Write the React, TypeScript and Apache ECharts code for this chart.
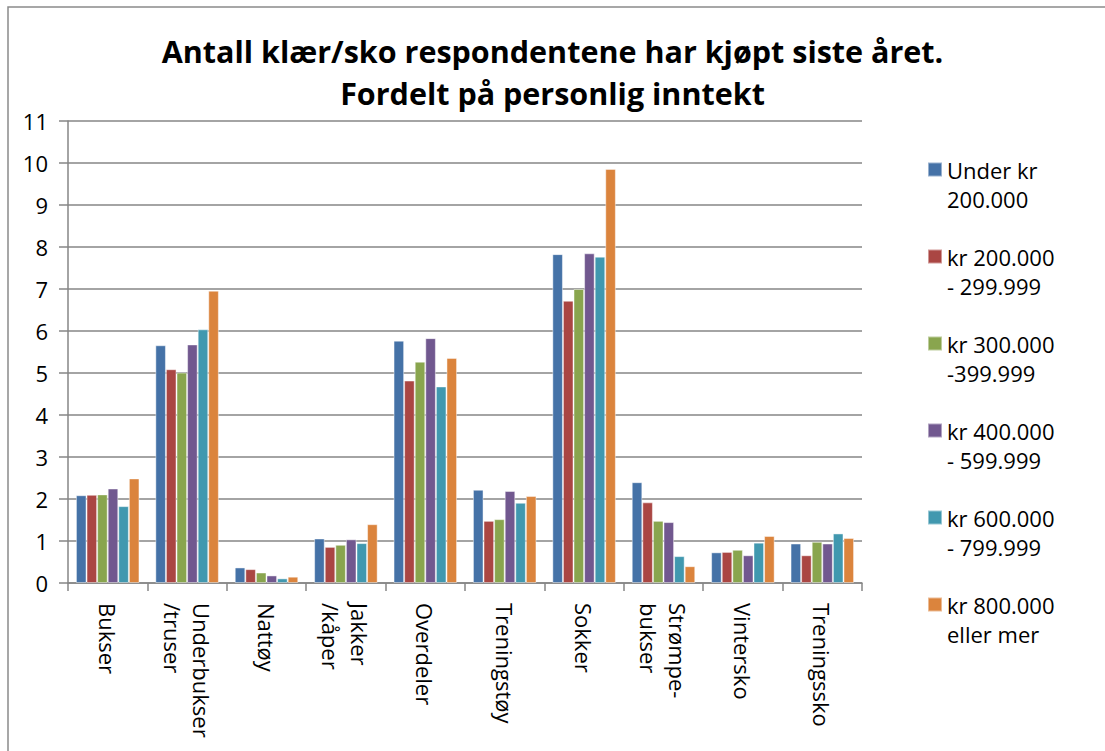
import React, { useEffect, useRef } from "react";
import * as echarts from "echarts";

const categories = [
  "Bukser",
  "Underbukser\n/truser",
  "Nattøy",
  "Jakker\n/kåper",
  "Overdeler",
  "Treningstøy",
  "Sokker",
  "Strømpe-\nbukser",
  "Vintersko",
  "Treningssko",
];

const seriesNames = [
  "Under kr\n200.000",
  "kr 200.000\n- 299.999",
  "kr 300.000\n-399.999",
  "kr 400.000\n- 599.999",
  "kr 600.000\n- 799.999",
  "kr 800.000\neller mer",
];

const under200 = [2.09, 5.66, 0.37, 1.06, 5.77, 2.22, 7.83, 2.4, 0.73, 0.94];
const kr200to299 = [2.1, 5.09, 0.33, 0.86, 4.82, 1.48, 6.72, 1.92, 0.74, 0.66];
const kr300to399 = [2.11, 5.01, 0.25, 0.91, 5.27, 1.52, 7.0, 1.48, 0.79, 0.98];
const kr400to599 = [2.25, 5.68, 0.18, 1.04, 5.83, 2.19, 7.85, 1.45, 0.66, 0.94];
const kr600to799 = [1.83, 6.04, 0.11, 0.95, 4.68, 1.91, 7.77, 0.64, 0.96, 1.18];
const kr800plus = [2.49, 6.96, 0.15, 1.4, 5.36, 2.07, 9.86, 0.4, 1.12, 1.07];

const seriesValues = [under200, kr200to299, kr300to399, kr400to599, kr600to799, kr800plus];

const colors = ["#4572A7", "#AA4643", "#89A54E", "#71588F", "#4198AF", "#DB843D"];

const titleText = "Antall klær/sko respondentene har kjøpt siste året.\nFordelt på personlig inntekt";

const FONT = '"Open Sans", "Noto Sans", sans-serif';

export default function App() {
  const ref = useRef<HTMLDivElement>(null);

  useEffect(() => {
    if (!ref.current) return;
    const chart = echarts.init(ref.current, undefined, { renderer: "svg" });
    const gridColor = "#868686";
    chart.setOption({
      animation: false,
      backgroundColor: "#ffffff",
      color: colors,
      title: {
        text: titleText,
        left: "center",
        top: 30,
        padding: 0,
        textStyle: {
          fontFamily: FONT,
          fontWeight: "bold",
          fontSize: 30.5,
          lineHeight: 42,
          color: "#000000",
        },
      },
      graphic: [
        {
          type: "rect",
          shape: { x: 8, y: 7, width: 1200, height: 800 },
          style: { fill: "none", stroke: "#8a8a8a", lineWidth: 1.5 },
          silent: true,
          z: -1,
        },
      ],
      legend: {
        orient: "vertical",
        left: 927,
        top: 126,
        padding: 0,
        itemGap: 0,
        itemWidth: 14,
        itemHeight: 14,
        icon: "rect",
        formatter: (name: string) => "\n" + name,
        textStyle: {
          fontFamily: FONT,
          fontSize: 22,
          lineHeight: 29,
          color: "#000000",
        },
        data: seriesNames,
      },
      grid: {
        left: 68,
        right: 243,
        top: 121,
        bottom: 168,
        containLabel: false,
      },
      xAxis: {
        type: "category",
        data: categories,
        boundaryGap: true,
        axisLine: { show: true, lineStyle: { color: gridColor, width: 1.5 } },
        axisTick: { show: true, interval: 0, length: 8, alignWithLabel: false, lineStyle: { color: gridColor, width: 1.5 } },
        axisLabel: {
          interval: 0,
          rotate: -90,
          margin: 20,
          fontFamily: FONT,
          fontSize: 22,
          lineHeight: 29,
          color: "#000000",
        },
        splitLine: { show: false },
      },
      yAxis: {
        type: "value",
        min: 0,
        max: 11,
        interval: 1,
        axisLine: { show: true, lineStyle: { color: gridColor, width: 1.5 } },
        axisTick: { show: true, length: 9, lineStyle: { color: gridColor, width: 1.5 } },
        axisLabel: {
          margin: 20,
          fontFamily: FONT,
          fontSize: 22,
          color: "#000000",
        },
        splitLine: { show: true, lineStyle: { color: gridColor, width: 1.5 } },
      },
      series: seriesNames.map((name, i) => ({
        name,
        type: "bar",
        data: seriesValues[i],
        barGap: "0%",
        barCategoryGap: "20%",
        itemStyle: {
          color: colors[i],
          borderColor: "rgba(255,255,255,0.45)",
          borderWidth: 1,
        },
      })),
    });
    return () => chart.dispose();
  }, []);

  return (
    <div
      ref={ref}
      style={{ position: "absolute", left: 0, top: 0, width: 1105, height: 751 }}
    />
  );
}
